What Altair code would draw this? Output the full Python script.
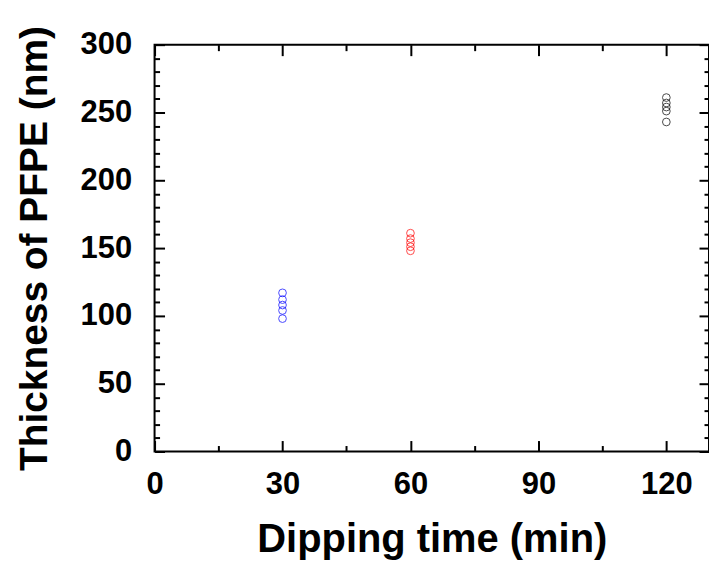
import altair as alt
import pandas as pd

# data
times_blue = [30, 30, 30, 30, 30]
thick_blue = [117, 112, 108, 104, 98]
times_red = [60, 60, 60, 60, 60]
thick_red = [161, 157, 154, 151, 148]
times_black = [120, 120, 120, 120, 120]
thick_black = [261, 257, 254, 251, 243]

x_major = [0, 30, 60, 90, 120]
x_minor = [15, 45, 75, 105]
y_major = [0, 50, 100, 150, 200, 250, 300]
y_minor = [v for v in range(0, 301, 10) if v % 50 != 0]

W, H = 556, 408
FONT = "Liberation Sans"

rows = []
for t, v in zip(times_blue, thick_blue):
    rows.append({"t": t, "v": v, "g": "30"})
for t, v in zip(times_red, thick_red):
    rows.append({"t": t, "v": v, "g": "60"})
for t, v in zip(times_black, thick_black):
    rows.append({"t": t, "v": v, "g": "120"})
df = pd.DataFrame(rows)

xs = alt.Scale(domain=[0, 130], nice=False, zero=False)
ys = alt.Scale(domain=[0, 300], nice=False, zero=False)

# visible points with labelled axes
pts = alt.Chart(df).mark_point(shape="circle", filled=False, size=60, strokeWidth=1).encode(
    x=alt.X("t:Q", scale=xs, axis=alt.Axis(
        orient="bottom", values=x_major, ticks=False, tickSize=0, domain=False, grid=False,
        labelFont=FONT, labelFontWeight="bold", labelFontSize=31, labelColor="black",
        labelPadding=18, labelFlush=False,
        title="Dipping time (min)", titleFont=FONT, titleFontWeight="bold", titleFontSize=40,
        titleColor="black", titleBaseline="alphabetic", titleY=100, titleX=W / 2, titleAlign="center")),
    y=alt.Y("v:Q", scale=ys, axis=alt.Axis(
        orient="left", values=y_major, ticks=False, tickSize=0, domain=False, grid=False,
        labelFont=FONT, labelFontWeight="bold", labelFontSize=31, labelColor="black",
        labelPadding=23, labelFlush=False,
        title="Thickness of PFPE (nm)", titleFont=FONT, titleFontWeight="bold", titleFontSize=39,
        titleColor="black", titleAngle=270, titleBaseline="alphabetic", titleAlign="center",
        titleX=-108, titleY=H / 2)),
    color=alt.Color("g:N", scale=alt.Scale(domain=["30", "60", "120"],
                                           range=["#0000ff", "#ff0000", "#000000"]), legend=None),
)


def tick_layer(xorient, yorient, xvals, yvals, xsize, ysize):
    return alt.Chart(df).mark_point(opacity=0).encode(
        x=alt.X("t:Q", scale=xs, axis=alt.Axis(
            orient=xorient, offset=-H, values=xvals, labels=False, domain=False, grid=False,
            ticks=True, tickSize=xsize, tickWidth=2, tickColor="black", title=None)),
        y=alt.Y("v:Q", scale=ys, axis=alt.Axis(
            orient=yorient, offset=-W, values=yvals, labels=False, domain=False, grid=False,
            ticks=True, tickSize=ysize, tickWidth=2, tickColor="black", title=None)),
    )


layers = [
    pts,
    tick_layer("top", "right", x_major, y_major, 11, 10),      # bottom & left edges, major
    tick_layer("top", "right", x_minor, y_minor, 6, 5),        # bottom & left edges, minor
    tick_layer("bottom", "left", x_major, y_major, 11, 10),    # top & right edges, major
    tick_layer("bottom", "left", x_minor, y_minor, 6, 5),      # top & right edges, minor
]

chart = alt.layer(*layers).resolve_scale(x="shared", y="shared").resolve_axis(
    x="independent", y="independent"
).properties(
    width=W, height=H,
    autosize=alt.AutoSizeParams(type="none"),
    padding={"left": 155, "top": 44, "right": 0, "bottom": 111},
    background="white",
).configure_view(stroke="black", strokeWidth=2)

chart.save("out.html", embed_options={"renderer": "svg", "actions": False})
